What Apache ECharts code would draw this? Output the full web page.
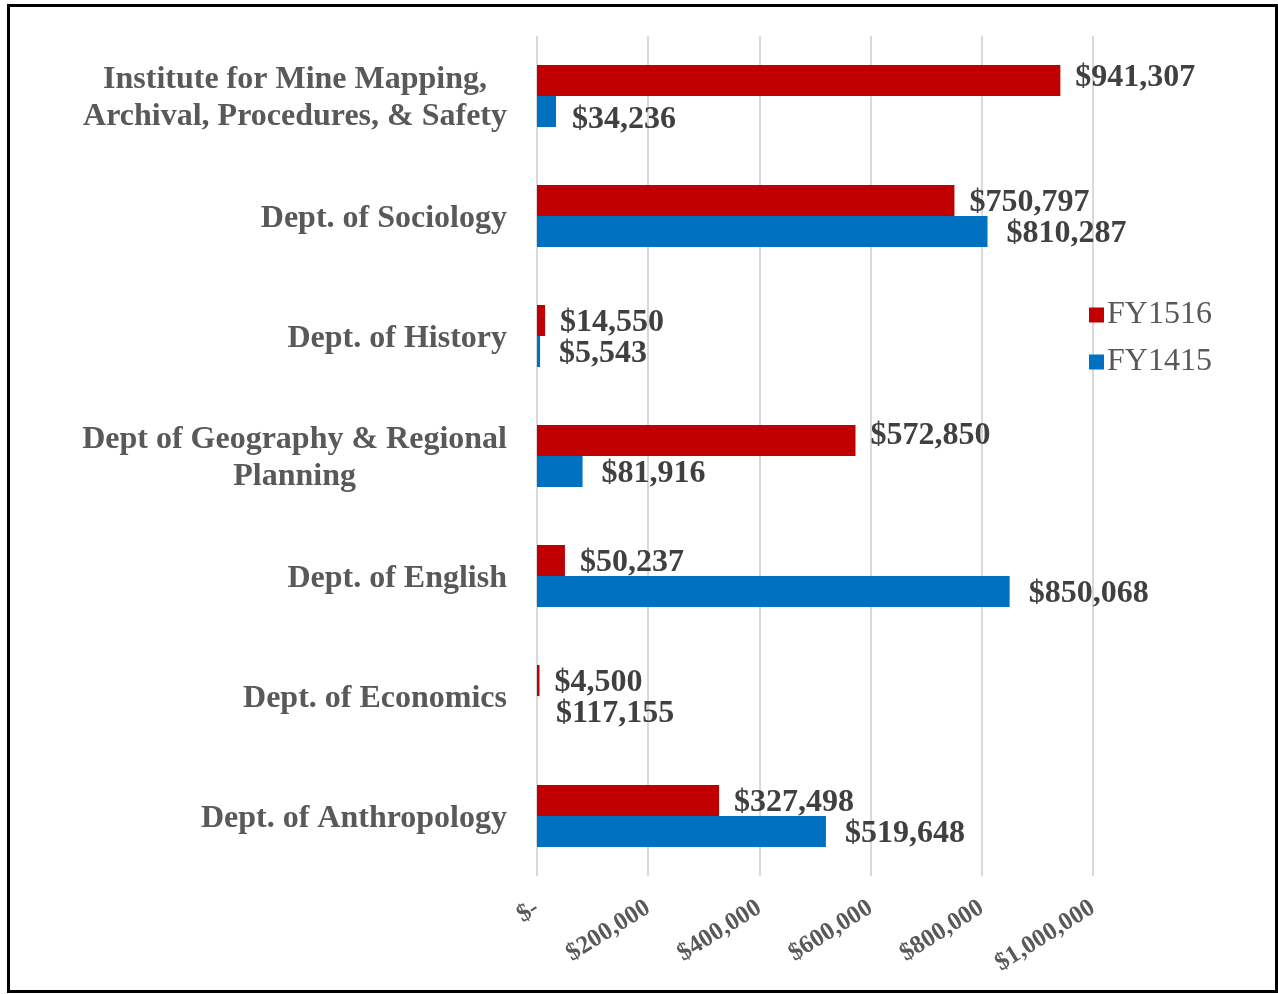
<!DOCTYPE html>
<html><head><meta charset="utf-8">
<script src="https://cdn.jsdelivr.net/npm/echarts@6/dist/echarts.min.js"></script>
<style>html,body{margin:0;padding:0;background:#fff}#c{width:1278px;height:994px}</style>
</head><body><div id="c"></div>
<script>
const categories = ["Institute for Mine Mapping,\nArchival, Procedures, & Safety","Dept. of Sociology","Dept. of History","Dept of Geography & Regional\nPlanning","Dept. of English","Dept. of Economics","Dept. of Anthropology"];
const fy1516 = [941307, 750797, 14550, 572850, 50237, 4500, 327498];
const fy1415 = [34236, 810287, 5543, 81916, 850068, 117155, 519648];
// bar lengths as drawn in the reference (Economics FY1415 bar is not shown)
const fy1415Drawn = [34236, 810287, 5543, 81916, 850068, 0, 519648];
const xTicks = [0, 200000, 400000, 600000, 800000, 1000000];

const fmt = v => v === 0 ? '$-' : '$' + v.toLocaleString('en-US');
const serif = '"Liberation Serif", "Times New Roman", serif';
const redOff = [[0,-3],[0,2],[0,2],[0,-5],[0,2],[0,2],[0,2]];
const blueOff = [[-3,8],[0,2],[0,2],[0,2],[0,2],[0,2],[0,2]];

const chart = echarts.init(document.getElementById('c'));
chart.setOption({
  animation:false,
  backgroundColor:'#fff',
  graphic:[{type:'rect',shape:{x:8.5,y:5.5,width:1268,height:986},style:{fill:'none',stroke:'#000',lineWidth:3},z:100}],
  legend:{orient:'vertical',left:1084,top:294,itemWidth:15,itemHeight:15,itemGap:15,icon:'rect',
    data:['FY1516','FY1415'],
    textStyle:{fontFamily:serif,fontSize:32,color:'#595959',padding:[0,0,0,-2]}},
  grid:{left:537,right:185,top:36,bottom:118,containLabel:false},
  xAxis:{type:'value',min:0,max:1000000,interval:200000,
    axisLine:{show:false},axisTick:{show:false},
    splitLine:{lineStyle:{color:'#d9d9d9',width:2}},
    axisLabel:{rotate:32,margin:30,fontFamily:serif,fontWeight:'bold',fontSize:25,color:'#595959',formatter:fmt}},
  yAxis:{type:'category',inverse:true,data:categories,
    axisLine:{show:false},axisTick:{show:false},
    axisLabel:{margin:30,padding:[5,0,0,0],fontFamily:serif,fontWeight:'bold',fontSize:32,color:'#595959',lineHeight:37,
      formatter:v=>v.split('\n').map(s=>'{c|'+s+'}').join('\n'),
      rich:{c:{align:'center',fontFamily:serif,fontWeight:'bold',fontSize:32,color:'#595959',lineHeight:37}}}},
  series:[
    {name:'FY1516',type:'bar',barWidth:31,barGap:'0%',itemStyle:{color:'#C00000'},
     data:fy1516.map((v,i)=>({value:v,label:{offset:redOff[i]}})),
     label:{show:true,position:'right',distance:15,fontFamily:serif,fontWeight:'bold',fontSize:32,color:'#404040',
       formatter:p=>fmt(fy1516[p.dataIndex])}},
    {name:'FY1415',type:'bar',barWidth:31,barGap:'0%',itemStyle:{color:'#0070C0'},
     data:fy1415Drawn.map((v,i)=>({value:v,label:{offset:blueOff[i]}})),
     label:{show:true,position:'right',distance:19,fontFamily:serif,fontWeight:'bold',fontSize:32,color:'#404040',
       formatter:p=>fmt(fy1415[p.dataIndex])}}
  ]
});
</script></body></html>
